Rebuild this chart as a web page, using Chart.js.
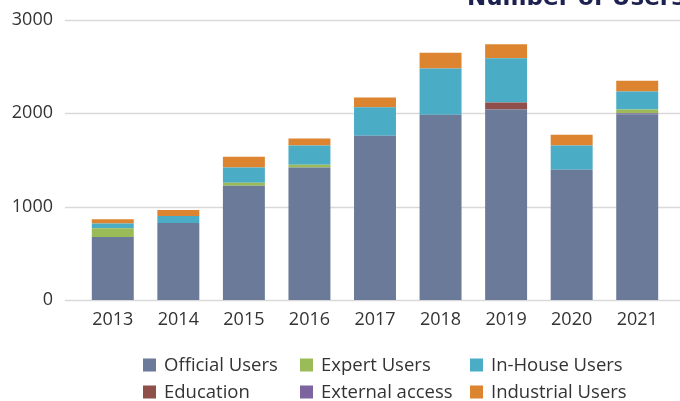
<!DOCTYPE html>
<html>
<head>
<meta charset="utf-8">
<script src="https://cdn.jsdelivr.net/npm/chart.js@4/dist/chart.umd.min.js"></script>
<style>
  html, body { margin: 0; padding: 0; background: #fff; overflow: hidden; }
  #wrap { position: relative; width: 680px; height: 401px; }
</style>
</head>
<body>
<div id="wrap"><canvas id="chart" width="680" height="401"></canvas></div>
<script>
const years = ["2013", "2014", "2015", "2016", "2017", "2018", "2019", "2020", "2021"];
const official = [675, 825, 1225, 1420, 1760, 1985, 2040, 1395, 1990];
const education = [0, 0, 0, 0, 0, 0, 75, 0, 0];
const external = [0, 0, 0, 0, 0, 0, 0, 0, 10];
const expert = [95, 0, 30, 30, 0, 0, 0, 0, 40];
const inHouse = [50, 75, 165, 205, 305, 495, 475, 260, 195];
const industrial = [45, 65, 115, 75, 105, 170, 150, 115, 115];
const yTicks = [0, 1000, 2000, 3000];

const FONT = "'Open Sans'";
const TEXT = "#333333";

// stacking order bottom -> top
const series = [
  { label: "Official Users", data: official, color: "#6b7a99" },
  { label: "Education", data: education, color: "#8f4f4a" },
  { label: "External access", data: external, color: "#7e649e" },
  { label: "Expert Users", data: expert, color: "#9bbb59" },
  { label: "In-House Users", data: inHouse, color: "#4bacc6" },
  { label: "Industrial Users", data: industrial, color: "#dc8430" },
];
// legend layout, row by row
const legendRows = [
  ["Official Users", "Expert Users", "In-House Users"],
  ["Education", "External access", "Industrial Users"],
];

const gridPlugin = {
  id: "grid",
  beforeDatasetsDraw(chart) {
    const { ctx, scales: { y } } = chart;
    ctx.save();
    ctx.strokeStyle = "#d9d9d9";
    ctx.lineWidth = 1.5;
    yTicks.forEach(v => {
      const py = Math.round(y.getPixelForValue(v)) + 0.5;
      ctx.beginPath();
      ctx.moveTo(65, py);
      ctx.lineTo(680, py);
      ctx.stroke();
    });
    ctx.restore();
  }
};

const extrasPlugin = {
  id: "extras",
  afterDraw(chart) {
    const ctx = chart.ctx;
    ctx.save();
    // title, cut off at top edge
    ctx.fillStyle = "#1d2150";
    ctx.font = "bold 23px 'DejaVu Sans'";
    ctx.textBaseline = "alphabetic";
    ctx.textAlign = "left";
    ctx.fillText("Number of Users", 467, 5);

    // legend in fixed columns
    const colBox = [143, 300, 470];
    const rowY = [365, 392];
    ctx.font = "18.5px " + FONT;
    ctx.textBaseline = "middle";
    legendRows.forEach((row, r) => {
      row.forEach((name, c) => {
        const s = series.find(d => d.label === name);
        ctx.fillStyle = s.color;
        ctx.fillRect(colBox[c], rowY[r] - 6.5, 13, 13);
        ctx.fillStyle = TEXT;
        ctx.fillText(name, colBox[c] + 21, rowY[r] + 1);
      });
    });
    ctx.restore();
  }
};

new Chart(document.getElementById("chart"), {
  type: "bar",
  data: {
    labels: years,
    datasets: series.map(s => ({
      label: s.label,
      data: s.data,
      backgroundColor: s.color,
      borderWidth: 0,
      categoryPercentage: 1,
      barPercentage: 0.64,
    })),
  },
  options: {
    responsive: false,
    animation: false,
    layout: { padding: { top: 20, right: 10, bottom: 0, left: 0 } },
    plugins: {
      legend: { display: false },
      title: { display: false },
      tooltip: { enabled: false },
    },
    scales: {
      x: {
        stacked: true,
        grid: { display: false, drawTicks: false },
        border: { display: false },
        ticks: { color: TEXT, font: { family: FONT, size: 18 }, padding: 9, maxRotation: 0 },
        afterFit(scale) { scale.height = 101; },
      },
      y: {
        stacked: true,
        min: 0,
        max: 3000,
        grid: { display: false, drawTicks: false },
        border: { display: false },
        ticks: {
          stepSize: 1000, color: TEXT, font: { family: FONT, size: 18 }, padding: 27,
          callback: v => String(v),
        },
        afterFit(scale) {
          scale.width = 80;
          scale.paddingTop = 0;
          scale.paddingBottom = 0;
        },
      },
    },
  },
  plugins: [gridPlugin, extrasPlugin],
});
</script>
</body>
</html>
